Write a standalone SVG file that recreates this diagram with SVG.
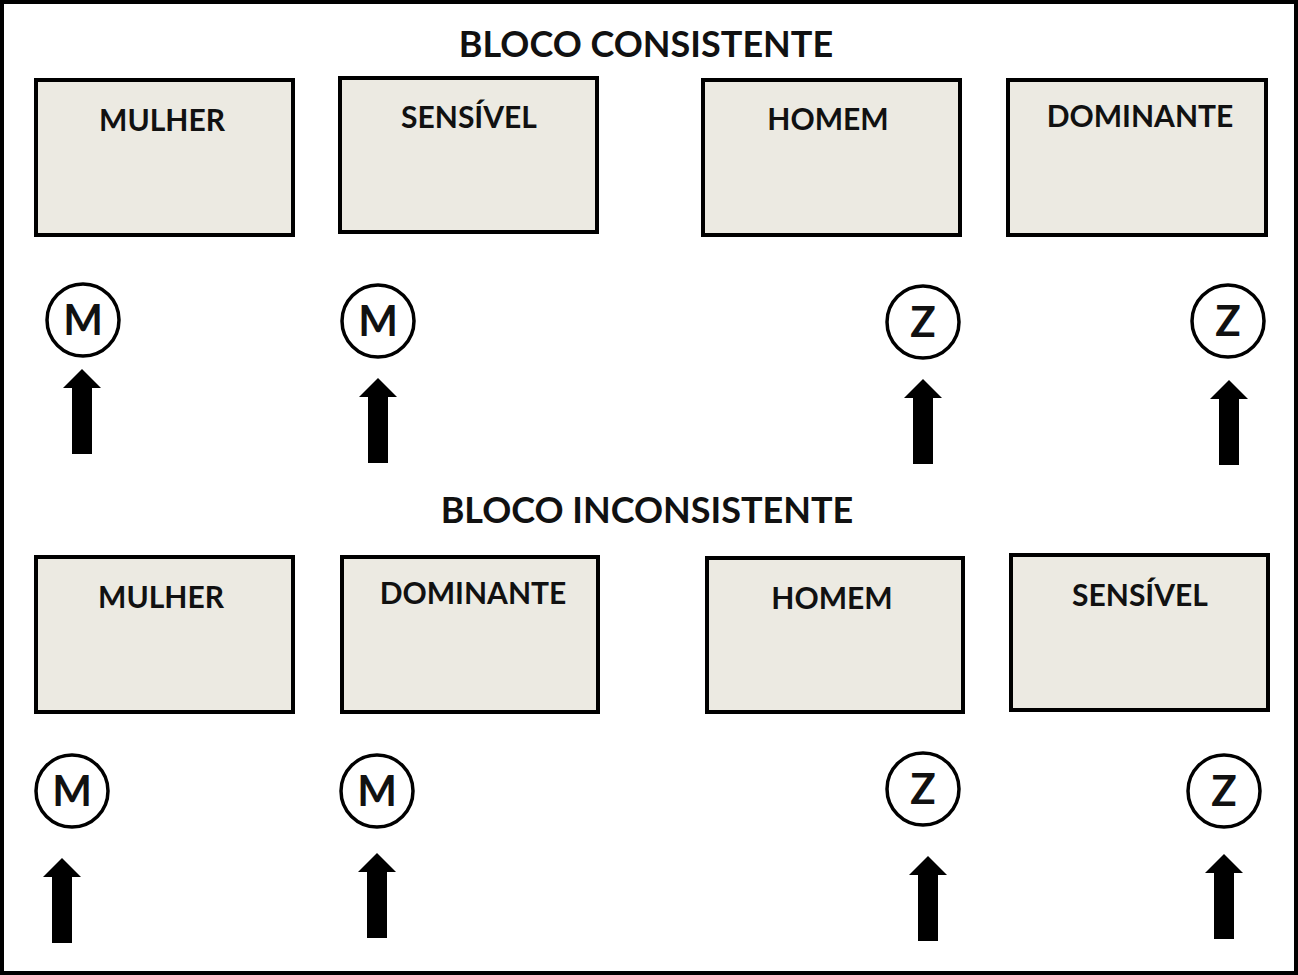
<svg xmlns="http://www.w3.org/2000/svg" width="1298" height="975" viewBox="0 0 1298 975">
<defs>
<style>
.box{fill:#ECEAE2;stroke:#000;stroke-width:4}
.lbl{font-family:Lato,"Open Sans",sans-serif;font-weight:bold;font-size:30px;fill:#111;text-anchor:middle}
.ttl{font-family:Lato,"Open Sans",sans-serif;font-weight:bold;font-size:36px;fill:#111;text-anchor:middle}
.circ{fill:#fff;stroke:#000;stroke-width:3.5}
.key{font-family:Lato,"Open Sans",sans-serif;font-weight:bold;font-size:42px;fill:#111;text-anchor:middle}
.arr{fill:#000}
</style>
<path id="up" d="M0,0 L19,19 L10,19 L10,85 L-10,85 L-10,19 L-19,19 Z"/>
</defs>
<rect x="2" y="2" width="1294" height="971" fill="#fff" stroke="#000" stroke-width="4"/>
<text class="ttl" x="646" y="57">BLOCO CONSISTENTE</text>
<text class="ttl" x="647" y="523">BLOCO INCONSISTENTE</text>

<g id="top-mulher"><rect class="box" x="36" y="80" width="257" height="155"/><text class="lbl" x="162" y="131">MULHER</text></g>
<g id="top-sensivel"><rect class="box" x="340" y="78" width="257" height="154"/><text class="lbl" x="469" y="128">SENSÍVEL</text></g>
<g id="top-homem"><rect class="box" x="703" y="80" width="257" height="155"/><text class="lbl" x="828" y="130">HOMEM</text></g>
<g id="top-dominante"><rect class="box" x="1008" y="80" width="258" height="155"/><text class="lbl" x="1140" y="127">DOMINANTE</text></g>

<g id="bot-mulher"><rect class="box" x="36" y="557" width="257" height="155"/><text class="lbl" x="161" y="608">MULHER</text></g>
<g id="bot-dominante"><rect class="box" x="342" y="557" width="256" height="155"/><text class="lbl" x="473" y="604">DOMINANTE</text></g>
<g id="bot-homem"><rect class="box" x="707" y="558" width="256" height="154"/><text class="lbl" x="832" y="609">HOMEM</text></g>
<g id="bot-sensivel"><rect class="box" x="1011" y="555" width="257" height="155"/><text class="lbl" x="1140" y="606">SENSÍVEL</text></g>

<g id="keys">
<g id="k1"><circle class="circ" cx="83" cy="320" r="36"/><text class="key" x="83" y="335">M</text></g>
<g id="k2"><circle class="circ" cx="378" cy="321" r="36"/><text class="key" x="378" y="336">M</text></g>
<g id="k3"><circle class="circ" cx="923" cy="322" r="36"/><text class="key" x="923" y="337">Z</text></g>
<g id="k4"><circle class="circ" cx="1228" cy="321" r="36"/><text class="key" x="1228" y="336">Z</text></g>
<g id="k5"><circle class="circ" cx="72" cy="791" r="36"/><text class="key" x="72" y="806">M</text></g>
<g id="k6"><circle class="circ" cx="377" cy="791" r="36"/><text class="key" x="377" y="806">M</text></g>
<g id="k7"><circle class="circ" cx="923" cy="789" r="36"/><text class="key" x="923" y="804">Z</text></g>
<g id="k8"><circle class="circ" cx="1224" cy="791" r="36"/><text class="key" x="1224" y="806">Z</text></g>
</g>

<g id="arrows" class="arr">
<use href="#up" x="82" y="369"/>
<use href="#up" x="378" y="378"/>
<use href="#up" x="923" y="379"/>
<use href="#up" x="1229" y="380"/>
<use href="#up" x="62" y="858"/>
<use href="#up" x="377" y="853"/>
<use href="#up" x="928" y="856"/>
<use href="#up" x="1224" y="854"/>
</g>
</svg>
